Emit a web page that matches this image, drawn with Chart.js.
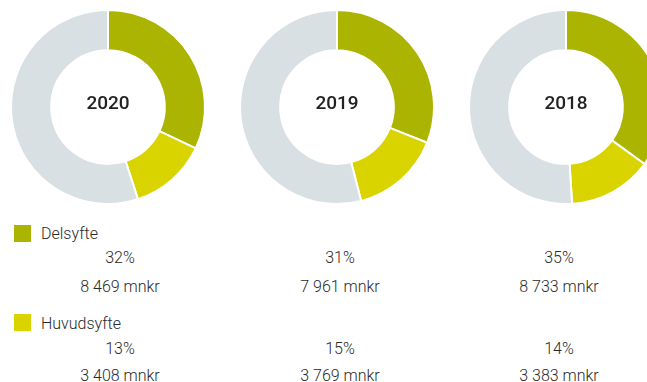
<!DOCTYPE html>
<html>
<head>
<meta charset="utf-8">
<script src="https://cdn.jsdelivr.net/npm/chart.js@4/dist/chart.umd.min.js"></script>
<style>
    html, body {
        margin: 0;
        padding: 0;
        width: 647px;
        height: 382px;
        overflow: hidden;
        background: #fff;
        font-family: Roboto, "Noto Sans", sans-serif;
        font-weight: 300;
        color: #2a2a2a;
    }
    .donut {
        position: absolute;
        top: 7px;
        width: 200px;
        height: 200px;
    }
    .swatch {
        position: absolute;
        left: 14px;
        width: 17px;
        height: 17px;
    }
    .label {
        position: absolute;
        left: 41px;
        font-size: 16px;
        line-height: 18px;
    }
    .cell {
        position: absolute;
        width: 140px;
        margin-left: -70px;
        text-align: center;
        font-size: 16px;
        line-height: 18px;
    }
</style>
</head>
<body>

<div class="donut" style="left: 8px;"><canvas id="donut-0"></canvas></div>
<div class="donut" style="left: 237px;"><canvas id="donut-1"></canvas></div>
<div class="donut" style="left: 466px;"><canvas id="donut-2"></canvas></div>

<div class="swatch" style="top: 225px; background: #abb400;"></div>
<div class="label" style="top: 225px;">Delsyfte</div>
<div class="swatch" style="top: 314px; background: #d9d400;"></div>
<div class="label" style="top: 315px;">Huvudsyfte</div>

<div id="cells"></div>

<script>
const years = ['2020', '2019', '2018'];
const delsyftePct = [32, 31, 35];
const huvudsyftePct = [13, 15, 14];
const delsyfteMnkr = [8469, 7961, 8733];
const huvudsyfteMnkr = [3408, 3769, 3383];

const colors = {
    delsyfte: '#abb400',
    huvudsyfte: '#d9d400',
    rest: '#d9e0e3'
};

// x centre of each value column below the doughnuts
const columnX = [120, 340, 559];

// writes the year in the hole of the doughnut
const centerText = {
    id: 'centerText',
    afterDraw(chart, args, opts) {
        const meta = chart.getDatasetMeta(0);
        if (!meta.data.length) return;
        const {x, y} = meta.data[0];
        const ctx = chart.ctx;
        ctx.save();
        ctx.font = '500 19px Roboto, sans-serif';
        ctx.fillStyle = '#222';
        ctx.textAlign = 'center';
        ctx.textBaseline = 'middle';
        ctx.fillText(opts.text, x, y - 3);
        ctx.restore();
    }
};

function formatMnkr(value) {
    return String(value).replace(/\B(?=(\d{3})+(?!\d))/g, ' ') + ' mnkr';
}

years.forEach(function (year, i) {
    let rest = 100 - delsyftePct[i] - huvudsyftePct[i];
    new Chart(document.getElementById('donut-' + i), {
        type: 'doughnut',
        data: {
            labels: ['Delsyfte', 'Huvudsyfte', 'Övrigt'],
            datasets: [{
                data: [delsyftePct[i], huvudsyftePct[i], rest],
                backgroundColor: [colors.delsyfte, colors.huvudsyfte, colors.rest],
                borderColor: '#fff',
                borderWidth: 2
            }]
        },
        options: {
            responsive: true,
            maintainAspectRatio: false,
            animation: false,
            events: [],
            radius: 97,
            cutout: 58,
            layout: {padding: 0},
            plugins: {
                legend: {display: false},
                tooltip: {enabled: false},
                centerText: {text: year}
            }
        },
        plugins: [centerText]
    });
});

// percentage and amount rows under the legend entries
let cells = document.getElementById('cells');
let rows = [
    {top: 249, values: delsyftePct.map(v => v + '%')},
    {top: 278, values: delsyfteMnkr.map(formatMnkr)},
    {top: 340, values: huvudsyftePct.map(v => v + '%')},
    {top: 367, values: huvudsyfteMnkr.map(formatMnkr)}
];
rows.forEach(function (row) {
    row.values.forEach(function (text, i) {
        let div = document.createElement('div');
        div.className = 'cell';
        div.style.top = row.top + 'px';
        div.style.left = columnX[i] + 'px';
        div.textContent = text;
        cells.appendChild(div);
    });
});
</script>
</body>
</html>
